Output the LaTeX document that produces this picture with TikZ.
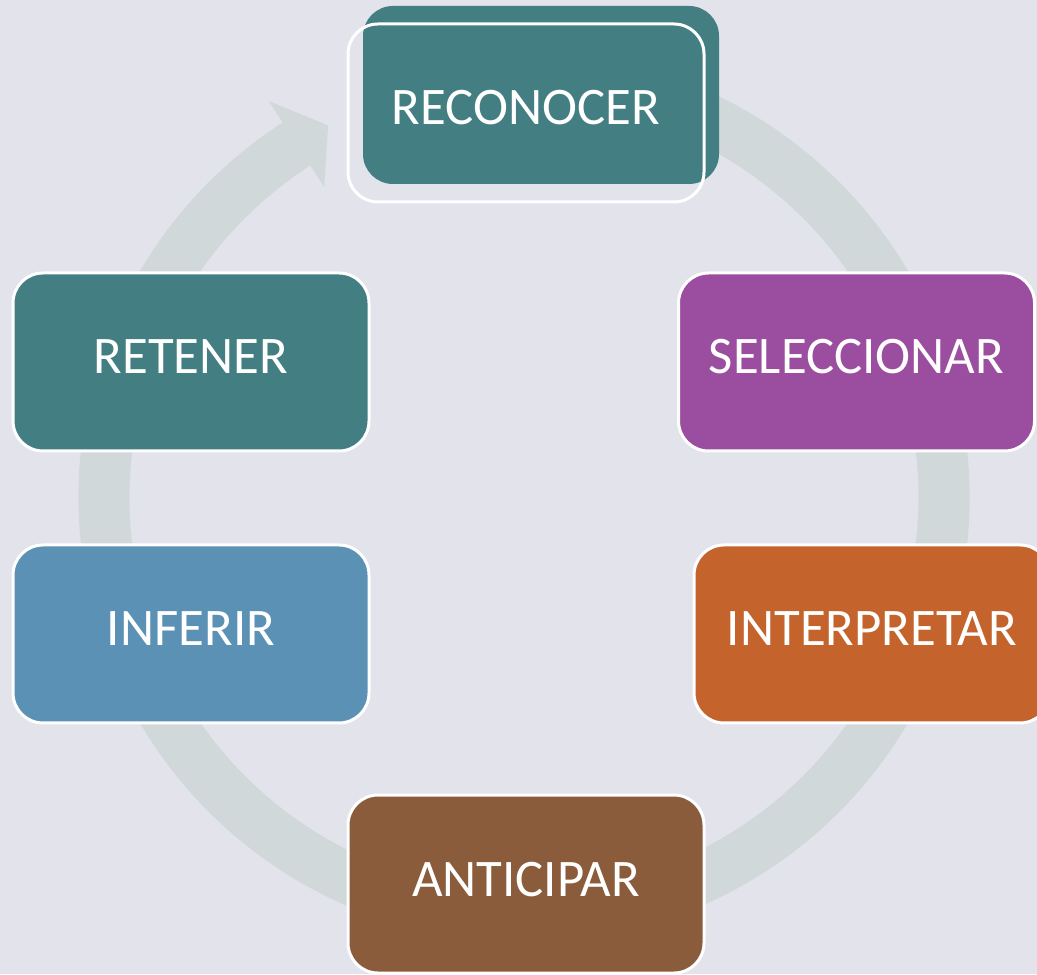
\documentclass[tikz,border=0pt]{standalone}
\usepackage{fontspec}
\setmainfont{Carlito}
\usetikzlibrary{calc}
\definecolor{bgc}{RGB}{226,227,235}
\definecolor{ringc}{RGB}{208,216,218}
\definecolor{tealc}{RGB}{66,126,130}
\definecolor{purplec}{RGB}{155,78,160}
\definecolor{bluec}{RGB}{91,145,181}
\definecolor{orangec}{RGB}{196,100,44}
\definecolor{brownc}{RGB}{138,92,59}
\newcommand{\stagetext}[1]{\raisebox{-6pt}[0pt][0pt]{#1}}
\tikzset{
  stagebox/.style={draw=white, line width=1.5pt, rounded corners=15pt,
    minimum width=178pt, minimum height=89pt, inner sep=0pt,
    text=white, font=\fontsize{26.4}{31}\selectfont},
}
\begin{document}
\begin{tikzpicture}[x=0.5pt,y=0.5pt]
\fill[bgc] (0,0) rectangle (1037,974);
\useasboundingbox (0,0) rectangle (1037,974);
\clip (0,0) rectangle (1037,974);
\coordinate (c) at (524,477);
% circular arrow
\fill[ringc] ($(c)+(100:445.5)$) arc[start angle=100, end angle=-237.2, radius=445.5]
  -- ($(c)+(122.8:471)$) -- ($(c)+(117.8:420)$) -- ($(c)+(122.8:369)$)
  -- ($(c)+(122.8:394.5)$) arc[start angle=-237.2, end angle=100, radius=394.5] -- cycle;
% nodes
\node[stagebox, draw=none, fill=tealc] (recoback) at (541,879) {};
\node[stagebox] (reco) at (526,861) {\stagetext{RECONOCER}};
\node[stagebox, fill=purplec] (selec) at (856.5,612) {\stagetext{SELECCIONAR}};
\node[stagebox, fill=orangec] (interp) at (872,340) {\stagetext{INTERPRETAR}};
\node[stagebox, fill=brownc] (antic) at (526,90) {\stagetext{ANTICIPAR}};
\node[stagebox, fill=bluec] (infer) at (191,340) {\stagetext{INFERIR}};
\node[stagebox, fill=tealc] (reten) at (191,612) {\stagetext{RETENER}};
\end{tikzpicture}
\end{document}
